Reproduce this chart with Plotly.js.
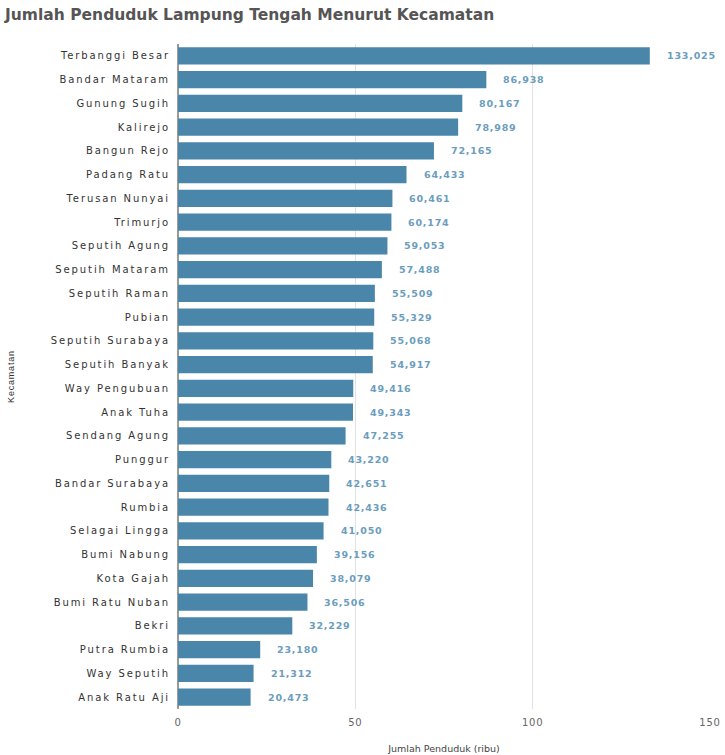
<!DOCTYPE html>
<html>
<head>
<meta charset="utf-8">
<script src="https://cdn.plot.ly/plotly-3.0.1.min.js"></script>
<style>
html,body{margin:0;padding:0;background:#fff;}
#chart{width:725px;height:755px;}
.ytick text{letter-spacing:1.9px;}
.annotation-text{letter-spacing:0.8px;}
.xtick text{letter-spacing:0.8px;}
</style>
</head>
<body>
<div id="chart"></div>
<script>
var kecamatan = ["Terbanggi Besar","Bandar Mataram","Gunung Sugih","Kalirejo","Bangun Rejo","Padang Ratu","Terusan Nunyai","Trimurjo","Seputih Agung","Seputih Mataram","Seputih Raman","Pubian","Seputih Surabaya","Seputih Banyak","Way Pengubuan","Anak Tuha","Sendang Agung","Punggur","Bandar Surabaya","Rumbia","Selagai Lingga","Bumi Nabung","Kota Gajah","Bumi Ratu Nuban","Bekri","Putra Rumbia","Way Seputih","Anak Ratu Aji"];
var penduduk = [133.025,86.938,80.167,78.989,72.165,64.433,60.461,60.174,59.053,57.488,55.509,55.329,55.068,54.917,49.416,49.343,47.255,43.220,42.651,42.436,41.050,39.156,38.079,36.506,32.229,23.180,21.312,20.473];
var xTicks = [0,50,100,150];

var labels = penduduk.map(function(v){ return v.toFixed(3).replace('.', ','); });

var annotations = penduduk.map(function(v,i){
  return {x:v, y:kecamatan[i], xref:'x', yref:'y', text:labels[i], showarrow:false,
    xanchor:'left', xshift:15, font:{family:'DejaVu Sans', size:9.5, color:'#6b9dbd', weight:'bold'}};
});
annotations.push({xref:'paper', yref:'paper', x:-0.315, y:0.5, xanchor:'center', yanchor:'middle', textangle:-90,
  text:'Kecamatan', showarrow:false, font:{family:'Liberation Sans Narrow, Liberation Sans', size:9, color:'#333'}});

var trace = {
  type:'bar', orientation:'h', x:penduduk, y:kecamatan,
  marker:{color:'#4a86a9'}, hoverinfo:'x+y'
};

var layout = {
  width:725, height:755,
  margin:{l:178, r:15, t:44, b:46},
  paper_bgcolor:'#fff', plot_bgcolor:'#fff',
  bargap:0.28,
  title:{text:'Jumlah Penduduk Lampung Tengah Menurut Kecamatan', x:0.007, xanchor:'left', y:0.981, yanchor:'middle',
    font:{family:'DejaVu Sans', size:15.5, color:'#555', weight:'bold'}},
  xaxis:{range:[0,150], tickvals:xTicks, ticktext:xTicks.map(String), showgrid:true, gridcolor:'#e2e2e2', gridwidth:1,
    zeroline:true, zerolinecolor:'#9a9a9a', zerolinewidth:1.5, ticks:'', ticklabelstandoff:6, tickfont:{family:'DejaVu Sans', size:10, color:'#666'},
    title:{text:'Jumlah Penduduk (ribu)', font:{family:'DejaVu Sans', size:9.5, color:'#444'}, standoff:18}, fixedrange:true},
  yaxis:{type:'category', autorange:'reversed', tickfont:{family:'DejaVu Sans', size:10, color:'#333'}, ticks:'', ticklen:0, ticklabelstandoff:7,
    showgrid:false},
  annotations:annotations,
  showlegend:false
};

Plotly.newPlot('chart',[trace],layout,{displayModeBar:false, staticPlot:true});
</script>
</body>
</html>
